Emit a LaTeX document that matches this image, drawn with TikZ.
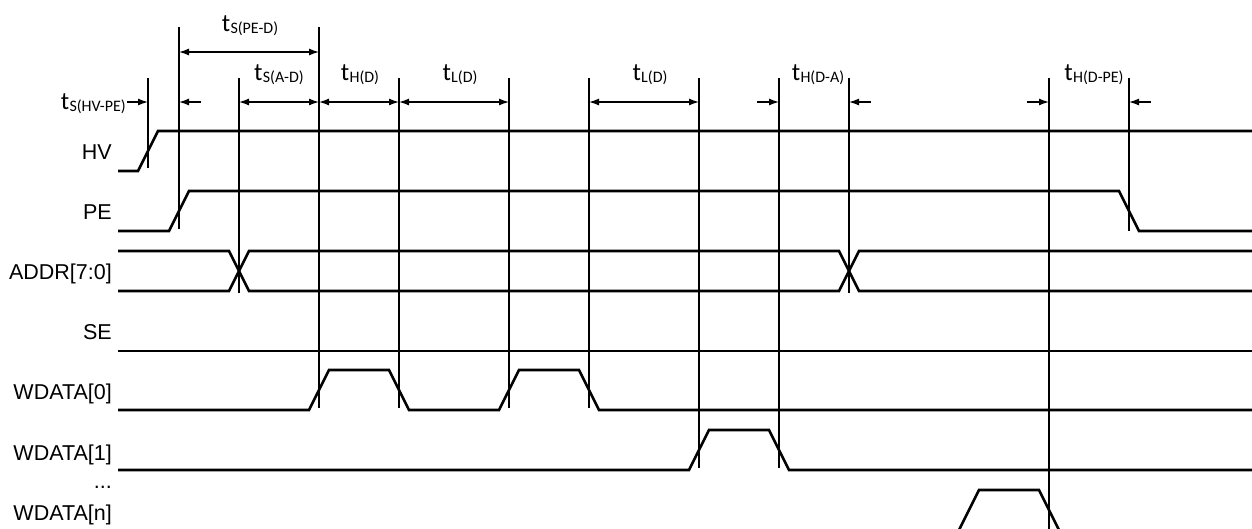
\documentclass[tikz,border=0pt]{standalone}
\usepackage{fontspec}
\setmainfont{Liberation Sans}
\newfontfamily\calfont{Carlito}
\usetikzlibrary{arrows.meta}
\newcommand\tlab[1]{{\calfont\fontsize{25}{25}\selectfont t\kern0.3pt\raisebox{-2.5pt}{\fontsize{16}{16}\selectfont #1}}}
\begin{document}
\begin{tikzpicture}[x=1pt,y=-1pt,
  sig/.style={line width=2.6pt,line join=miter},
  vmark/.style={line width=1.3pt},
  dim/.style={line width=1.3pt,-{Latex[length=10pt,width=7pt]}},
  dimboth/.style={line width=1.3pt,{Latex[length=10pt,width=7pt]}-{Latex[length=10pt,width=7pt]}},
  sname/.style={anchor=base east,inner sep=0pt,font=\fontsize{21.5}{21.5}\selectfont},
  tname/.style={anchor=base,inner sep=0pt}]
\useasboundingbox (0,0) rectangle (1252,528);
% signal names
\node[sname] (nHV) at (112,159) {HV};
\node[sname] (nPE) at (112,219) {PE};
\node[sname] (nADDR) at (112,279) {ADDR[7:0]};
\node[sname] (nSE) at (112,339) {SE};
\node[sname] (nW0) at (112,399) {WDATA[0]};
\node[sname] (nW1) at (112,460) {WDATA[1]};
\node[sname] (ndots) at (112,488) {...};
\node[sname] (nWn) at (112,520) {WDATA[n]};
% waveforms
\draw[sig] (118,171) -- (138,171) -- (158,131) -- (1252,131);
\draw[sig] (118,231) -- (169,231) -- (189,191) -- (1119,191) -- (1139,231) -- (1252,231);
\draw[sig] (118,251) -- (229,251) -- (249,291) -- (839,291) -- (859,251) -- (1252,251);
\draw[sig] (118,291) -- (229,291) -- (249,251) -- (839,251) -- (859,291) -- (1252,291);
\draw[sig] (118,351) -- (1252,351);
\draw[sig] (118,410) -- (309,410) -- (329,370) -- (389,370) -- (409,410) -- (499,410) -- (519,370) -- (579,370) -- (599,410) -- (1252,410);
\draw[sig] (118,470) -- (689,470) -- (709,430) -- (769,430) -- (789,470) -- (1252,470);
\draw[sig] (949,550) -- (959,530) -- (979,490) -- (1039,490) -- (1059,530) -- (1069,550);
% marker lines
\draw[vmark] (148,78) -- (148,168);
\draw[vmark] (179,27) -- (179,229);
\draw[vmark] (239,78) -- (239,293);
\draw[vmark] (319,27) -- (319,408);
\draw[vmark] (399,78) -- (399,408);
\draw[vmark] (509,78) -- (509,408);
\draw[vmark] (589,78) -- (589,408);
\draw[vmark] (699,78) -- (699,468);
\draw[vmark] (779,78) -- (779,468);
\draw[vmark] (849,78) -- (849,293);
\draw[vmark] (1049,78) -- (1049,530);
\draw[vmark] (1129,78) -- (1129,231);
% dimension arrows
\coordinate (a1) at (179,52); \coordinate (a2) at (319,52);
\draw[dimboth] (a1) -- (a2);
\coordinate (hvs) at (127,102); \coordinate (hve) at (148,102);
\draw[dim] (hvs) -- (hve);
\coordinate (pes) at (201,102); \coordinate (pee) at (179,102);
\draw[dim] (pes) -- (pee);
\coordinate (b1) at (239,102); \coordinate (b2) at (319,102);
\coordinate (b3) at (399,102); \coordinate (b4) at (509,102);
\coordinate (b5) at (589,102); \coordinate (b6) at (699,102);
\draw[dimboth] (b1) -- (b2);
\draw[dimboth] (b2) -- (b3);
\draw[dimboth] (b3) -- (b4);
\draw[dimboth] (b5) -- (b6);
\coordinate (c1) at (757,102); \coordinate (c2) at (779,102);
\coordinate (c3) at (871,102); \coordinate (c4) at (849,102);
\draw[dim] (c1) -- (c2);
\draw[dim] (c3) -- (c4);
\coordinate (d1) at (1027,102); \coordinate (d2) at (1049,102);
\coordinate (d3) at (1151,102); \coordinate (d4) at (1129,102);
\draw[dim] (d1) -- (d2);
\draw[dim] (d3) -- (d4);
% timing labels
\node[tname] (tPED) at (250,31) {\tlab{S(PE-D)}};
\node[tname,anchor=base east] (tHVPE) at (126,109) {\tlab{S(HV-PE)}};
\node[tname] (tAD) at (279,80) {\tlab{S(A-D)}};
\node[tname] (tHD) at (360,80) {\tlab{H(D)}};
\node[tname] (tLD1) at (460,80) {\tlab{L(D)}};
\node[tname] (tLD2) at (650,80) {\tlab{L(D)}};
\node[tname] (tHDA) at (818,80) {\tlab{H(D-A)}};
\node[tname] (tHDPE) at (1094,80) {\tlab{H(D-PE)}};
\end{tikzpicture}
\end{document}
